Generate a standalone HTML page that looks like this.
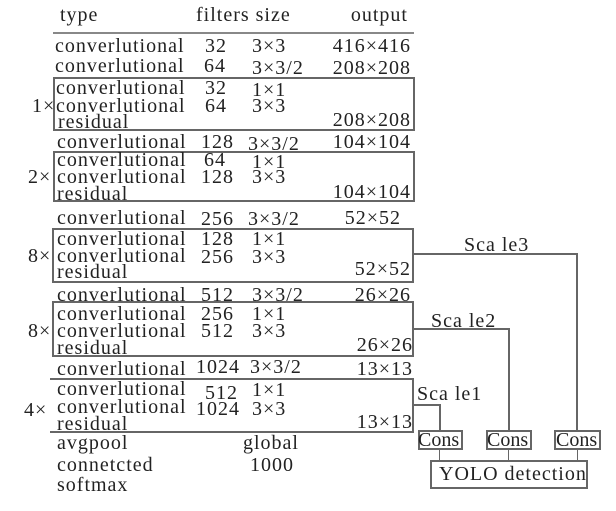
<!DOCTYPE html><html><head><style>
body{margin:0;width:616px;height:511px;background:#fff;position:relative;overflow:hidden;font-family:"Liberation Serif",serif;color:#222}
.t{position:absolute;font-size:20px;line-height:18px;letter-spacing:1px;white-space:nowrap}
.r{text-align:right}
.b{position:absolute;border:2px solid #666;box-sizing:border-box}
.h{position:absolute;height:2px;background:#666}
.v{position:absolute;width:2px;background:#666}
</style></head><body>
<div class="h" style="left:53px;top:32px;width:361px;background:#888"></div>
<div class="t" style="left:60px;top:6px">type</div>
<div class="t" style="left:196px;top:6px">filters size</div>
<div class="t r" style="left:320px;top:6px;width:88px">output</div>
<div class="t" style="left:55px;top:37px">converlutional</div><div class="t" style="left:205px;top:37px">32</div><div class="t" style="left:252px;top:37px">3×3</div><div class="t r" style="left:300px;top:37px;width:111px">416×416</div>
<div class="t" style="left:55px;top:57px">converlutional</div><div class="t" style="left:204px;top:57px">64</div><div class="t" style="left:252px;top:59px">3×3/2</div><div class="t r" style="left:300px;top:59px;width:111px">208×208</div>
<div class="b" style="left:53px;top:77px;width:362px;height:54px"></div>
<div class="t" style="left:56px;top:79px">converlutional</div><div class="t" style="left:205px;top:79px">32</div><div class="t" style="left:252px;top:81px">1×1</div>
<div class="t" style="left:32px;top:97px">1×</div><div class="t" style="left:56px;top:97px">converlutional</div><div class="t" style="left:205px;top:97px">64</div><div class="t" style="left:252px;top:97px">3×3</div>
<div class="t" style="left:58px;top:113px">residual</div><div class="t r" style="left:300px;top:111px;width:111px">208×208</div>
<div class="t" style="left:57px;top:133px">converlutional</div><div class="t" style="left:201px;top:133px">128</div><div class="t" style="left:248px;top:135px">3×3/2</div><div class="t r" style="left:300px;top:133px;width:111px">104×104</div>
<div class="b" style="left:53px;top:151px;width:362px;height:51px"></div>
<div class="t" style="left:57px;top:151px">converlutional</div><div class="t" style="left:204px;top:151px">64</div><div class="t" style="left:252px;top:153px">1×1</div>
<div class="t" style="left:28px;top:168px">2×</div><div class="t" style="left:57px;top:168px">converlutional</div><div class="t" style="left:201px;top:168px">128</div><div class="t" style="left:252px;top:168px">3×3</div>
<div class="t" style="left:57px;top:185px">residual</div><div class="t r" style="left:300px;top:183px;width:111px">104×104</div>
<div class="t" style="left:57px;top:209px">converlutional</div><div class="t" style="left:201px;top:210px">256</div><div class="t" style="left:248px;top:210px">3×3/2</div><div class="t r" style="left:300px;top:209px;width:101px">52×52</div>
<div class="b" style="left:52px;top:228px;width:362px;height:55px"></div>
<div class="t" style="left:57px;top:230px">converlutional</div><div class="t" style="left:201px;top:230px">128</div><div class="t" style="left:252px;top:230px">1×1</div>
<div class="t" style="left:28px;top:247px">8×</div><div class="t" style="left:57px;top:247px">converlutional</div><div class="t" style="left:201px;top:248px">256</div><div class="t" style="left:252px;top:248px">3×3</div>
<div class="t" style="left:57px;top:263px">residual</div><div class="t r" style="left:300px;top:260px;width:111px">52×52</div>
<div class="t" style="left:57px;top:286px">converlutional</div><div class="t" style="left:201px;top:286px">512</div><div class="t" style="left:252px;top:286px">3×3/2</div><div class="t r" style="left:300px;top:286px;width:111px">26×26</div>
<div class="b" style="left:52px;top:301px;width:362px;height:56px"></div>
<div class="t" style="left:57px;top:305px">converlutional</div><div class="t" style="left:201px;top:305px">256</div><div class="t" style="left:252px;top:305px">1×1</div>
<div class="t" style="left:28px;top:322px">8×</div><div class="t" style="left:57px;top:322px">converlutional</div><div class="t" style="left:201px;top:322px">512</div><div class="t" style="left:252px;top:322px">3×3</div>
<div class="t" style="left:57px;top:339px">residual</div><div class="t r" style="left:300px;top:336px;width:113px">26×26</div>
<div class="t" style="left:57px;top:360px">converlutional</div><div class="t" style="left:196px;top:358px">1024</div><div class="t" style="left:250px;top:358px">3×3/2</div><div class="t r" style="left:300px;top:360px;width:113px">13×13</div>
<div class="h" style="left:50px;top:378px;width:364px"></div>
<div class="v" style="left:412px;top:378px;height:55px"></div>
<div class="h" style="left:50px;top:431px;width:364px"></div>
<div class="t" style="left:57px;top:380px">converlutional</div><div class="t" style="left:205px;top:384px">512</div><div class="t" style="left:252px;top:381px">1×1</div>
<div class="t" style="left:24px;top:401px">4×</div><div class="t" style="left:57px;top:398px">converlutional</div><div class="t" style="left:196px;top:400px">1024</div><div class="t" style="left:252px;top:400px">3×3</div>
<div class="t" style="left:57px;top:415px">residual</div><div class="t r" style="left:300px;top:413px;width:113px">13×13</div>
<div class="t" style="left:57px;top:434px">avgpool</div><div class="t" style="left:243px;top:434px">global</div>
<div class="t" style="left:57px;top:456px">connetcted</div><div class="t" style="left:250px;top:456px">1000</div>
<div class="t" style="left:57px;top:476px">softmax</div>
<div class="h" style="left:414px;top:253px;width:164px"></div><div class="v" style="left:576px;top:253px;height:178px"></div>
<div class="h" style="left:414px;top:328px;width:96px"></div><div class="v" style="left:508px;top:328px;height:103px"></div>
<div class="h" style="left:413px;top:404px;width:28px"></div><div class="v" style="left:439px;top:404px;height:27px"></div>
<div class="t" style="left:464px;top:236px">Sca le3</div>
<div class="t" style="left:431px;top:312px">Sca le2</div>
<div class="t" style="left:417px;top:385px">Sca le1</div>
<div class="b" style="left:418px;top:430px;width:45px;height:20px"></div><div class="t" style="left:418px;top:431px;letter-spacing:0">Cons</div>
<div class="b" style="left:486px;top:430px;width:46px;height:20px"></div><div class="t" style="left:487px;top:431px;letter-spacing:0">Cons</div>
<div class="b" style="left:554px;top:430px;width:47px;height:20px"></div><div class="t" style="left:556px;top:431px;letter-spacing:0">Cons</div>
<div class="v" style="left:439px;top:450px;height:11px;width:1px"></div>
<div class="v" style="left:508px;top:450px;height:11px;width:1px"></div>
<div class="v" style="left:577px;top:450px;height:11px;width:1px"></div>
<div class="b" style="left:430px;top:460px;width:158px;height:29px"></div>
<div class="t" style="left:439px;top:465px">YOLO detection</div>
</body></html>
